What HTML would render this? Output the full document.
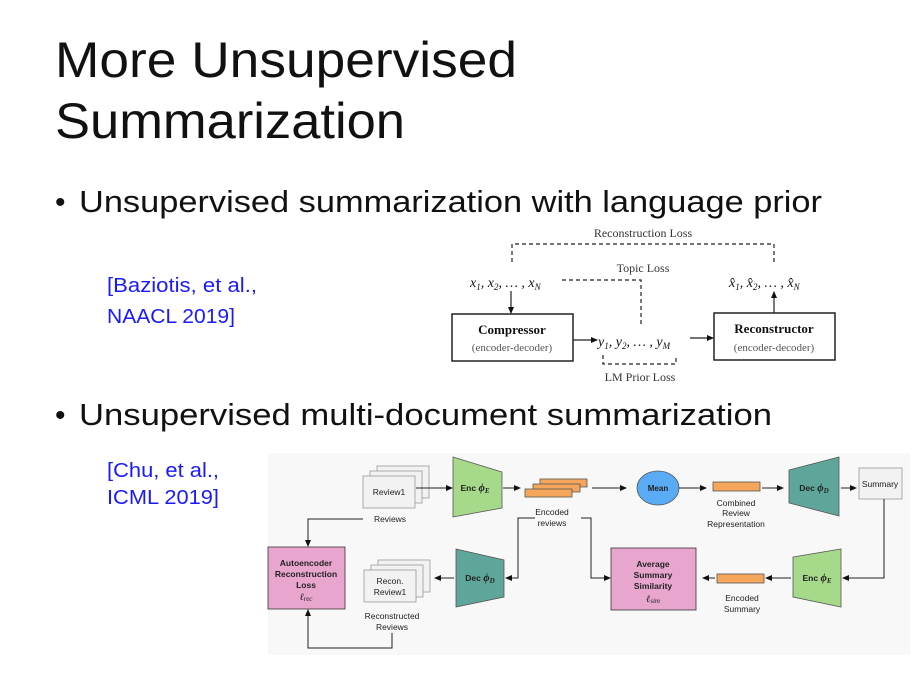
<!DOCTYPE html>
<html><head><meta charset="utf-8"><style>
html,body{margin:0;padding:0;background:#fff}
svg{display:block}
</style></head><body>
<svg width="916" height="673" viewBox="0 0 916 673" xmlns="http://www.w3.org/2000/svg" font-family="Liberation Sans, sans-serif">
<defs>
<marker id="a" markerWidth="7" markerHeight="7" refX="6" refY="3.5" orient="auto" markerUnits="userSpaceOnUse"><path d="M0,0.5 L7,3.5 L0,6.5 Z" fill="#111"/></marker>
</defs>
<!-- title -->
<text x="55" y="77" font-size="50" fill="#111" textLength="462" lengthAdjust="spacingAndGlyphs">More Unsupervised</text>
<text x="55" y="138" font-size="50" fill="#111" textLength="350" lengthAdjust="spacingAndGlyphs">Summarization</text>
<!-- bullets -->
<text x="55" y="212" font-size="30" fill="#111">•</text>
<text x="79" y="212" font-size="31" fill="#111" textLength="743" lengthAdjust="spacingAndGlyphs">Unsupervised summarization with language prior</text>
<text x="55" y="425" font-size="30" fill="#111">•</text>
<text x="79" y="425" font-size="31" fill="#111" textLength="693" lengthAdjust="spacingAndGlyphs">Unsupervised multi-document summarization</text>
<!-- citations -->
<g font-size="20" fill="#1a1aff">
<text x="107" y="292" textLength="150" lengthAdjust="spacingAndGlyphs">[Baziotis, et al.,</text>
<text x="107" y="323" textLength="128" lengthAdjust="spacingAndGlyphs">NAACL 2019]</text>
<text x="107" y="477" textLength="112" lengthAdjust="spacingAndGlyphs">[Chu, et al.,</text>
<text x="107" y="504" textLength="112" lengthAdjust="spacingAndGlyphs">ICML 2019]</text>
</g>
<!-- diagram 1 -->
<g font-family="Liberation Serif, serif" fill="#333">
<text x="643" y="237" font-size="12" text-anchor="middle">Reconstruction Loss</text>
<text x="643" y="272" font-size="12" text-anchor="middle">Topic Loss</text>
<text x="640" y="381" font-size="12" text-anchor="middle">LM Prior Loss</text>
<text x="470" y="287" font-size="14" font-style="italic" fill="#111">x<tspan font-size="9" dy="3">1</tspan><tspan dy="-3">, x</tspan><tspan font-size="9" dy="3">2</tspan><tspan dy="-3">, … , x</tspan><tspan font-size="9" dy="3">N</tspan></text>
<text x="598" y="346" font-size="14" font-style="italic" fill="#111">y<tspan font-size="9" dy="3">1</tspan><tspan dy="-3">, y</tspan><tspan font-size="9" dy="3">2</tspan><tspan dy="-3">, … , y</tspan><tspan font-size="9" dy="3">M</tspan></text>
<text x="729" y="287" font-size="14" font-style="italic" fill="#111">x̂<tspan font-size="9" dy="3">1</tspan><tspan dy="-3">, x̂</tspan><tspan font-size="9" dy="3">2</tspan><tspan dy="-3">, … , x̂</tspan><tspan font-size="9" dy="3">N</tspan></text>
<rect x="452" y="314" width="121" height="47" fill="#fff" stroke="#222" stroke-width="1.5"/>
<text x="512" y="334" font-size="13" font-weight="bold" text-anchor="middle" fill="#111">Compressor</text>
<text x="512" y="351" font-size="11" text-anchor="middle" fill="#555">(encoder-decoder)</text>
<rect x="714" y="313" width="121" height="47" fill="#fff" stroke="#222" stroke-width="1.5"/>
<text x="774" y="333" font-size="13" font-weight="bold" text-anchor="middle" fill="#111">Reconstructor</text>
<text x="774" y="351" font-size="11" text-anchor="middle" fill="#555">(encoder-decoder)</text>
</g>
<g fill="none" stroke="#222" stroke-width="1.2">
<path d="M512,262 V244 H774 V262" stroke-dasharray="4,3"/>
<path d="M562,280 H641 V326" stroke-dasharray="4,3"/>
<path d="M603,355 V364 H676 V355" stroke-dasharray="4,3"/>
<path d="M511,291 V313" marker-end="url(#a)"/>
<path d="M573,340 H597" marker-end="url(#a)"/>
<path d="M690,338 H713" marker-end="url(#a)"/>
<path d="M774,313 V292" marker-end="url(#a)"/>
</g>
<!-- diagram 2 -->
<rect x="268" y="453" width="642" height="202" fill="#f8f8f8"/>
<g stroke="#999" stroke-width="0.8" fill="#f2f2f2">
<rect x="377" y="466" width="52" height="32"/>
<rect x="370" y="471" width="52" height="32"/>
<rect x="363" y="476" width="52" height="32"/>
<rect x="378" y="560" width="52" height="32"/>
<rect x="371" y="565" width="52" height="32"/>
<rect x="364" y="570" width="52" height="32"/>
<rect x="859" y="468" width="43" height="31"/>
</g>
<g stroke="#555" stroke-width="0.8">
<path d="M453,457 L502,472 L502,508 L453,517 Z" fill="#a6d98a" stroke-linejoin="round"/>
<path d="M789,470 L839,457 L839,516 L789,503 Z" fill="#5fa69a"/>
<path d="M793,557 L841,549 L841,607 L793,597 Z" fill="#a6d98a"/>
<path d="M456,549 L504,560 L504,597 L456,607 Z" fill="#5fa69a"/>
<ellipse cx="658" cy="488" rx="21" ry="17" fill="#5aabf5"/>
<rect x="540" y="479" width="47" height="8" fill="#f5a65b"/>
<rect x="533" y="484" width="47" height="8" fill="#f5a65b"/>
<rect x="525" y="489" width="47" height="8" fill="#f5a65b"/>
<rect x="713" y="482" width="47" height="9" fill="#f5a65b"/>
<rect x="717" y="574" width="47" height="9" fill="#f5a65b"/>
<rect x="268" y="547" width="77" height="62" fill="#e8a6cf" stroke="#333"/>
<rect x="611" y="548" width="85" height="62" fill="#e8a6cf" stroke="#333"/>
</g>
<g fill="none" stroke="#222" stroke-width="1">
<path d="M416,488 H452" marker-end="url(#a)"/>
<path d="M503,488 H520" marker-end="url(#a)"/>
<path d="M592,488 H626" marker-end="url(#a)"/>
<path d="M679,488 H706" marker-end="url(#a)"/>
<path d="M762,488 H783" marker-end="url(#a)"/>
<path d="M841,488 H856" marker-end="url(#a)"/>
<path d="M884,499 V578 H843" marker-end="url(#a)"/>
<path d="M791,578 H766" marker-end="url(#a)"/>
<path d="M715,578 H703" marker-end="url(#a)"/>
<path d="M535,518 H518 V578 H506" marker-end="url(#a)"/>
<path d="M581,518 H591 V578 H610" marker-end="url(#a)"/>
<path d="M454,578 H435" marker-end="url(#a)"/>
<path d="M363,519 H308 V546" marker-end="url(#a)"/>
<path d="M392,633 V648 H308 V610" marker-end="url(#a)"/>
</g>
<g font-size="8.5" fill="#222" text-anchor="middle">
<text x="389" y="495">Review1</text>
<text x="390" y="522">Reviews</text>
<text x="552" y="515">Encoded</text>
<text x="552" y="526">reviews</text>
<text x="736" y="506">Combined</text>
<text x="736" y="516">Review</text>
<text x="736" y="527">Representation</text>
<text x="880" y="487">Summary</text>
<text x="742" y="601">Encoded</text>
<text x="742" y="612">Summary</text>
<text x="390" y="584">Recon.</text>
<text x="390" y="595">Review1</text>
<text x="392" y="619">Reconstructed</text>
<text x="392" y="630">Reviews</text>
<g font-weight="bold">
<text x="475" y="491">Enc <tspan font-family="Liberation Serif, serif" font-style="italic" font-size="11">ϕ<tspan font-size="7" dy="2">E</tspan></tspan></text>
<text x="814" y="491">Dec <tspan font-family="Liberation Serif, serif" font-style="italic" font-size="11">ϕ<tspan font-size="7" dy="2">D</tspan></tspan></text>
<text x="817" y="581">Enc <tspan font-family="Liberation Serif, serif" font-style="italic" font-size="11">ϕ<tspan font-size="7" dy="2">E</tspan></tspan></text>
<text x="480" y="581">Dec <tspan font-family="Liberation Serif, serif" font-style="italic" font-size="11">ϕ<tspan font-size="7" dy="2">D</tspan></tspan></text>
<text x="658" y="491" font-size="8">Mean</text>
<text x="306" y="566">Autoencoder</text>
<text x="306" y="577">Reconstruction</text>
<text x="306" y="588">Loss</text>
<text x="653" y="567">Average</text>
<text x="653" y="578">Summary</text>
<text x="653" y="589">Similarity</text>
</g>
<text x="306" y="600" font-family="Liberation Serif, serif" font-style="italic" font-size="10">ℓ<tspan font-size="7" dy="1">rec</tspan></text>
<text x="653" y="602" font-family="Liberation Serif, serif" font-style="italic" font-size="10">ℓ<tspan font-size="7" dy="1">sim</tspan></text>
</g>
</svg>
</body></html>
